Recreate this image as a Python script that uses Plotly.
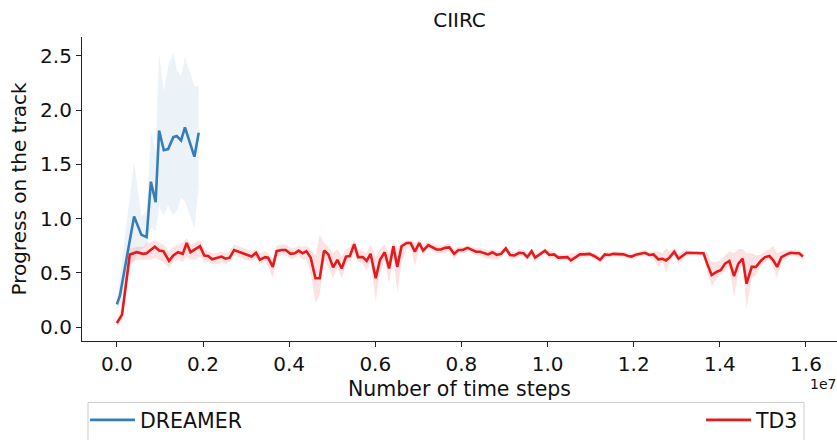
import plotly.graph_objects as go

# ---------------- data (x in millions of time steps) ----------------
dreamer_x = [0, 0.07, 0.40, 0.57, 0.69, 0.79, 0.90, 0.98, 1.09, 1.19, 1.31, 1.39, 1.49, 1.58, 1.80, 1.90]
dreamer_y = [0.21, 0.29, 1.02, 0.85, 0.83, 1.34, 1.15, 1.81, 1.63, 1.64, 1.75, 1.76, 1.72, 1.84, 1.57, 1.79]
dreamer_lo = [0.17, 0.20, 0.62, 0.72, 0.75, 0.92, 0.88, 1.11, 1.03, 1.12, 1.03, 1.07, 1.19, 1.16, 0.91, 1.30]
dreamer_hi = [0.25, 0.46, 1.52, 1.02, 1.07, 1.81, 1.61, 2.52, 2.17, 2.40, 2.54, 2.37, 2.31, 2.49, 2.22, 2.22]

td3_x = [
    0.0, 0.12, 0.3, 0.46, 0.61, 0.69, 0.77, 0.88, 0.98, 1.08,
    1.21, 1.31, 1.42, 1.53, 1.62, 1.71, 1.83, 1.93, 2.03, 2.12,
    2.21, 2.32, 2.43, 2.52, 2.62, 2.72, 2.86, 3.01, 3.13, 3.23,
    3.32, 3.44, 3.51, 3.62, 3.71, 3.82, 3.92, 4.03, 4.13, 4.22,
    4.31, 4.40, 4.50, 4.61, 4.71, 4.81, 4.91, 5.02, 5.12, 5.22,
    5.32, 5.41, 5.51, 5.60, 5.71, 5.80, 5.89, 6.01, 6.11, 6.22,
    6.32, 6.42, 6.51, 6.61, 6.73, 6.82, 6.92, 7.02, 7.11, 7.23,
    7.33, 7.42, 7.52, 7.62, 7.72, 7.83, 7.93, 8.03, 8.14, 8.24,
    8.34, 8.43, 8.53, 8.62, 8.72, 8.82, 8.92, 9.03, 9.13, 9.23,
    9.34, 9.44, 9.53, 9.63, 9.71, 9.82, 9.94, 10.04, 10.15, 10.25,
    10.36, 10.46, 10.54, 10.64, 10.75, 10.85, 10.97, 11.08, 11.22, 11.33,
    11.43, 11.53, 11.64, 11.76, 11.87, 11.95, 12.07, 12.19, 12.26, 12.36,
    12.46, 12.57, 12.67, 12.75, 12.83, 12.94, 13.04, 13.23, 13.42, 13.62,
    13.71, 13.81, 13.93, 14.02, 14.12, 14.22, 14.33, 14.43, 14.53, 14.62,
    14.74, 14.84, 14.95, 15.05, 15.15, 15.24, 15.33, 15.43, 15.55, 15.64,
    15.74, 15.84, 15.93,
]
td3_y = [
    0.036, 0.115, 0.67, 0.69, 0.675, 0.68, 0.705, 0.74, 0.705, 0.70,
    0.61, 0.66, 0.69, 0.675, 0.775, 0.69, 0.72, 0.745, 0.66, 0.655,
    0.625, 0.64, 0.65, 0.63, 0.64, 0.71, 0.69, 0.67, 0.65, 0.685,
    0.62, 0.645, 0.64, 0.555, 0.70, 0.71, 0.71, 0.675, 0.68, 0.705,
    0.68, 0.70, 0.64, 0.45, 0.45, 0.705, 0.67, 0.55, 0.62, 0.54,
    0.65, 0.655, 0.765, 0.645, 0.645, 0.61, 0.675, 0.45, 0.62, 0.69,
    0.54, 0.745, 0.555, 0.745, 0.775, 0.775, 0.695, 0.775, 0.705, 0.755,
    0.735, 0.715, 0.715, 0.73, 0.735, 0.675, 0.71, 0.71, 0.73, 0.71,
    0.695, 0.695, 0.68, 0.67, 0.69, 0.665, 0.675, 0.725, 0.665, 0.66,
    0.685, 0.68, 0.645, 0.70, 0.64, 0.67, 0.705, 0.665, 0.67, 0.64,
    0.645, 0.645, 0.615, 0.645, 0.67, 0.67, 0.675, 0.655, 0.62, 0.67,
    0.665, 0.675, 0.675, 0.67, 0.655, 0.65, 0.67, 0.68, 0.685, 0.665,
    0.67, 0.625, 0.63, 0.615, 0.64, 0.695, 0.63, 0.685, 0.68, 0.68,
    0.58, 0.48, 0.51, 0.525, 0.585, 0.61, 0.47, 0.585, 0.63, 0.40,
    0.555, 0.555, 0.61, 0.645, 0.655, 0.615, 0.555, 0.645, 0.67, 0.685,
    0.68, 0.68, 0.65,
]
td3_lo = [
    0.0, 0.06, 0.58, 0.62, 0.62, 0.62, 0.62, 0.64, 0.62, 0.60,
    0.55, 0.60, 0.62, 0.60, 0.65, 0.62, 0.62, 0.65, 0.60, 0.60,
    0.58, 0.58, 0.60, 0.58, 0.60, 0.66, 0.64, 0.62, 0.60, 0.64,
    0.58, 0.60, 0.56, 0.45, 0.65, 0.66, 0.66, 0.63, 0.64, 0.66,
    0.62, 0.62, 0.50, 0.22, 0.30, 0.62, 0.55, 0.45, 0.55, 0.45,
    0.58, 0.60, 0.68, 0.60, 0.58, 0.52, 0.60, 0.24, 0.50, 0.62,
    0.40, 0.65, 0.32, 0.60, 0.72, 0.74, 0.56, 0.74, 0.66, 0.72,
    0.70, 0.68, 0.68, 0.68, 0.70, 0.62, 0.68, 0.68, 0.70, 0.68,
    0.66, 0.66, 0.64, 0.63, 0.62, 0.62, 0.64, 0.69, 0.63, 0.63,
    0.65, 0.65, 0.61, 0.67, 0.60, 0.64, 0.68, 0.63, 0.64, 0.61,
    0.62, 0.62, 0.57, 0.62, 0.64, 0.64, 0.65, 0.63, 0.59, 0.64,
    0.64, 0.65, 0.65, 0.645, 0.63, 0.625, 0.645, 0.655, 0.66, 0.64,
    0.64, 0.55, 0.60, 0.50, 0.60, 0.66, 0.58, 0.66, 0.66, 0.66,
    0.50, 0.38, 0.45, 0.48, 0.52, 0.55, 0.28, 0.50, 0.58, 0.17,
    0.45, 0.48, 0.56, 0.60, 0.62, 0.55, 0.45, 0.60, 0.64, 0.66,
    0.65, 0.65, 0.62,
]
td3_hi = [
    0.06, 0.20, 0.72, 0.74, 0.74, 0.78, 0.78, 0.80, 0.78, 0.76,
    0.70, 0.74, 0.76, 0.78, 0.82, 0.76, 0.78, 0.80, 0.72, 0.70,
    0.68, 0.68, 0.70, 0.68, 0.70, 0.76, 0.74, 0.72, 0.70, 0.72,
    0.68, 0.70, 0.68, 0.63, 0.75, 0.76, 0.76, 0.73, 0.73, 0.75,
    0.74, 0.75, 0.72, 0.66, 0.85, 0.78, 0.74, 0.68, 0.72, 0.65,
    0.72, 0.74, 0.80, 0.72, 0.70, 0.68, 0.76, 0.65, 0.72, 0.76,
    0.68, 0.79, 0.72, 0.78, 0.80, 0.80, 0.78, 0.80, 0.76, 0.78,
    0.77, 0.76, 0.75, 0.76, 0.77, 0.72, 0.74, 0.74, 0.75, 0.74,
    0.73, 0.73, 0.72, 0.71, 0.72, 0.70, 0.71, 0.75, 0.70, 0.69,
    0.72, 0.71, 0.68, 0.73, 0.68, 0.70, 0.73, 0.70, 0.70, 0.67,
    0.67, 0.67, 0.68, 0.68, 0.70, 0.70, 0.70, 0.68, 0.65, 0.70,
    0.69, 0.70, 0.70, 0.695, 0.68, 0.675, 0.695, 0.705, 0.71, 0.69,
    0.70, 0.70, 0.68, 0.73, 0.70, 0.73, 0.68, 0.71, 0.70, 0.70,
    0.68, 0.60, 0.60, 0.62, 0.66, 0.70, 0.68, 0.72, 0.72, 0.68,
    0.68, 0.66, 0.67, 0.70, 0.72, 0.75, 0.68, 0.70, 0.71, 0.71,
    0.71, 0.71, 0.68,
]

x_tick_vals = [0, 2e6, 4e6, 6e6, 8e6, 10e6, 12e6, 14e6, 16e6]
x_tick_text = ["0.0", "0.2", "0.4", "0.6", "0.8", "1.0", "1.2", "1.4", "1.6"]
y_tick_vals = [0.0, 0.5, 1.0, 1.5, 2.0, 2.5]

BLUE = "#377eb8"
RED = "#e41a1c"
FONT = "DejaVu Sans"

def steps(xs):
    return [v * 1e6 for v in xs]

fig = go.Figure()

# DREAMER band
fig.add_trace(go.Scatter(x=steps(dreamer_x), y=dreamer_lo, mode="lines",
                         line=dict(width=0), showlegend=False, hoverinfo="skip"))
fig.add_trace(go.Scatter(x=steps(dreamer_x), y=dreamer_hi, mode="lines",
                         line=dict(width=0), fill="tonexty",
                         fillcolor="rgba(55,126,184,0.10)", showlegend=False, hoverinfo="skip"))
# TD3 band
fig.add_trace(go.Scatter(x=steps(td3_x), y=td3_lo, mode="lines",
                         line=dict(width=0), showlegend=False, hoverinfo="skip"))
fig.add_trace(go.Scatter(x=steps(td3_x), y=td3_hi, mode="lines",
                         line=dict(width=0), fill="tonexty",
                         fillcolor="rgba(228,26,28,0.12)", showlegend=False, hoverinfo="skip"))

fig.add_trace(go.Scatter(x=steps(dreamer_x), y=dreamer_y, mode="lines", name="DREAMER",
                         line=dict(color=BLUE, width=2.6), legend="legend"))
fig.add_trace(go.Scatter(x=steps(td3_x), y=td3_y, mode="lines", name="TD3",
                         line=dict(color=RED, width=2.6), legend="legend2"))

axis_common = dict(showline=True, linecolor="#222", linewidth=1.2, ticks="outside",
                   ticklen=5, tickwidth=1.2, tickcolor="#222", showgrid=False,
                   zeroline=False, mirror=False,
                   tickfont=dict(family=FONT, size=20, color="#111"))

fig.update_layout(
    width=837, height=440,
    margin=dict(l=82, r=0, t=37, b=96),
    plot_bgcolor="white", paper_bgcolor="white",
    title=dict(text="CIIRC", x=0.5, xref="paper", xanchor="center",
               y=1 - 20 / 440, yref="container", yanchor="middle",
               font=dict(family=FONT, size=20, color="#111")),
    xaxis=dict(range=[-0.81e6, 16.72e6], tickvals=x_tick_vals, ticktext=x_tick_text,
               title=dict(text="Number of time steps", standoff=6,
                          font=dict(family=FONT, size=20.5, color="#111")),
               **axis_common),
    yaxis=dict(range=[-0.128, 2.673], tickvals=y_tick_vals, tickformat=".1f",
               title=dict(text="Progress on the track", standoff=8,
                          font=dict(family=FONT, size=20, color="#111")),
               **axis_common),
    legend=dict(x=(85 - 82) / 755, xanchor="left", y=(344 - 424) / 307, yanchor="middle",
                orientation="h", bgcolor="rgba(0,0,0,0)", itemwidth=45,
                font=dict(family=FONT, size=20.5, color="#111")),
    legend2=dict(x=(701 - 82) / 755, xanchor="left", y=(344 - 424) / 307, yanchor="middle",
                 orientation="h", bgcolor="rgba(0,0,0,0)", itemwidth=45,
                 font=dict(family=FONT, size=20.5, color="#111")),
    shapes=[dict(type="rect", xref="paper", yref="paper",
                 x0=(88 - 82) / 755, x1=(804 - 82) / 755,
                 y0=(344 - 406) / 307, y1=(344 - 470) / 307,
                 line=dict(color="#cccccc", width=1), fillcolor="rgba(0,0,0,0)", layer="below")],
    annotations=[dict(text="1e7", xref="paper", yref="paper", x=(823 - 82) / 755, y=(344 - 387) / 307,
                      xanchor="center", yanchor="middle", showarrow=False,
                      font=dict(family=FONT, size=14, color="#111"))],
)

fig.write_html("out.html")
